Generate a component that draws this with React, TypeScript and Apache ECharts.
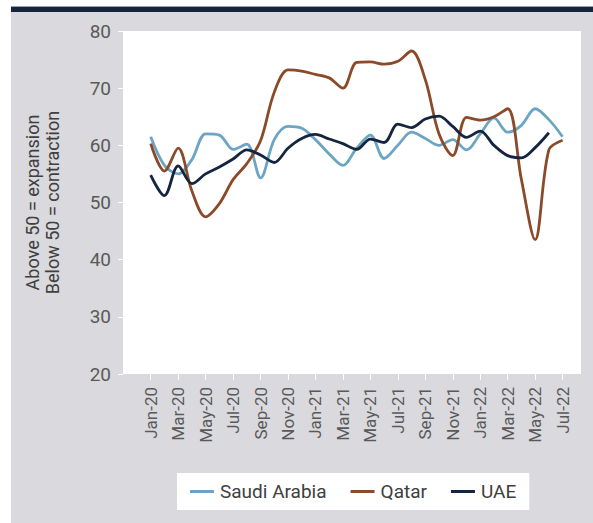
import React, { useEffect, useRef } from 'react';
import * as echarts from 'echarts';

const months = [
  'Jan-20', 'Feb-20', 'Mar-20', 'Apr-20', 'May-20', 'Jun-20', 'Jul-20', 'Aug-20', 'Sep-20', 'Oct-20', 'Nov-20', 'Dec-20',
  'Jan-21', 'Feb-21', 'Mar-21', 'Apr-21', 'May-21', 'Jun-21', 'Jul-21', 'Aug-21', 'Sep-21', 'Oct-21', 'Nov-21', 'Dec-21',
  'Jan-22', 'Feb-22', 'Mar-22', 'Apr-22', 'May-22', 'Jun-22', 'Jul-22',
];

const saudiArabia = [
  61.5, 56.5, 55.0, 57.5, 62.0, 61.8, 59.3, 60.2, 54.3, 61.0, 63.3, 63.0,
  61.0, 58.5, 56.5, 59.5, 61.8, 57.7, 60.0, 62.3, 61.2, 60.0, 61.0, 59.2,
  62.0, 64.8, 62.3, 63.5, 66.4, 64.5, 61.5,
];

const qatar = [
  60.3, 55.5, 59.5, 52.0, 47.5, 49.8, 54.0, 56.8, 60.8, 69.3, 73.2, 73.0,
  72.4, 71.8, 70.0, 74.5, 74.6, 74.2, 74.7, 76.5, 71.5, 62.0, 58.2, 64.9,
  64.4, 65.0, 66.4, 54.0, 43.5, 59.2, 60.9,
];

const uae = [
  54.8, 51.2, 56.4, 53.3, 55.0, 56.2, 57.6, 59.2, 58.3, 57.0, 59.5, 61.2,
  61.9, 61.1, 60.3, 59.3, 61.1, 60.5, 63.7, 63.1, 64.6, 65.1, 63.3, 61.4,
  62.5, 60.0, 58.2, 57.8, 59.6, 62.2,
];

const seriesNames = ['Saudi Arabia', 'Qatar', 'UAE'];
const seriesColors = ['#6ba5c3', '#8b4a2a', '#15243f'];
const yAxisName = 'Above 50 = expansion\nBelow 50 = contraction';

const FONT = "Roboto, 'Liberation Sans', sans-serif";

export default function App() {
  const ref = useRef<HTMLDivElement>(null);

  useEffect(() => {
    if (!ref.current) return;
    const chart = echarts.init(ref.current, null, { renderer: 'svg' });
    const data = [saudiArabia, qatar, uae];
    chart.setOption({
      animation: false,
      backgroundColor: '#ffffff',
      textStyle: { fontFamily: FONT },
      graphic: {
        z: -10,
        elements: [
          { type: 'rect', silent: true, shape: { x: 11, y: 12, width: 582, height: 511 }, style: { fill: '#d9d9de' } },
          { type: 'rect', silent: true, shape: { x: 11, y: 6, width: 582, height: 1 }, style: { fill: '#9d9eab' } },
          { type: 'rect', silent: true, shape: { x: 11, y: 7, width: 582, height: 5 }, style: { fill: '#16253f' } },
          { type: 'rect', silent: true, shape: { x: 123, y: 31, width: 458, height: 343 }, style: { fill: '#ffffff' } },
        ],
      },
      grid: { left: 150.7, right: 30.4, top: 31, bottom: 149, containLabel: false },
      legend: {
        left: 177,
        top: 473,
        backgroundColor: '#ffffff',
        padding: [8, 13, 8, 13],
        itemGap: 24,
        itemWidth: 24,
        itemHeight: 3,
        icon: 'rect',
        data: seriesNames,
        textStyle: { fontFamily: FONT, fontSize: 19, color: '#404040', lineHeight: 21, padding: [0, 0, 0, 1] },
      },
      xAxis: {
        type: 'category',
        data: months,
        boundaryGap: false,
        axisLine: { show: false },
        axisTick: { show: true, interval: 1, length: 6, lineStyle: { color: '#ffffff', width: 1 } },
        axisLabel: { interval: 1, rotate: 90, margin: 13, fontSize: 17, color: '#595959', fontFamily: FONT },
        splitLine: { show: false },
      },
      yAxis: {
        type: 'value',
        min: 20,
        max: 80,
        interval: 10,
        offset: 27.7,
        name: yAxisName,
        nameLocation: 'middle',
        nameRotate: 90,
        nameGap: 61,
        nameTextStyle: { fontFamily: FONT, fontSize: 18, color: '#404040', lineHeight: 20 },
        axisLine: { show: false },
        axisTick: { show: true, length: 5, lineStyle: { color: '#ffffff', width: 1 } },
        axisLabel: { margin: 12, fontSize: 19, color: '#595959', fontFamily: FONT },
        splitLine: { show: false },
      },
      series: seriesNames.map((name, i) => ({
        name,
        type: 'line',
        data: data[i],
        smooth: 0.33,
        symbol: 'none',
        color: seriesColors[i],
        lineStyle: { color: seriesColors[i], width: 2.8 },
        z: 3,
      })),
    });
    return () => chart.dispose();
  }, []);

  return <div ref={ref} style={{ position: 'absolute', left: 0, top: 0, width: 593, height: 523 }} />;
}
